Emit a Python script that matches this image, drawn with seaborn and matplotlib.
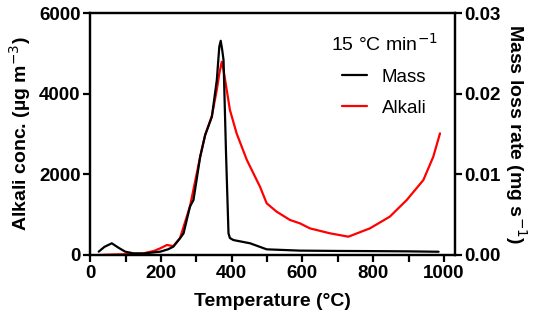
import numpy as np
import pandas as pd
import matplotlib
matplotlib.use('Agg')
import matplotlib.pyplot as plt
import seaborn as sns

# values
mass_temp = [24, 40, 61, 80, 99, 122, 150, 198, 220, 235, 254, 264, 282, 292, 311,
             325, 344, 358, 365, 369, 373, 377, 384, 391, 395, 405, 452, 499, 593,
             700, 800, 900, 985]
mass_rate = [0.00041, 0.00100, 0.00145, 0.00090, 0.00041, 0.00020, 0.00018, 0.00041,
             0.00070, 0.00103, 0.00207, 0.00269, 0.00600, 0.00682, 0.01220,
             0.01488, 0.01715, 0.02170, 0.02583, 0.02657, 0.02550, 0.02418, 0.01265,
             0.00269, 0.00210, 0.00185, 0.00145, 0.00070, 0.00054,
             0.00050, 0.00048, 0.00045, 0.00040]

alkali_temp = [28, 60, 100, 150, 180, 198, 217, 235, 254, 282, 311, 325, 344, 358,
               365, 372, 377, 395, 414, 443, 480, 499, 527, 565, 593, 621, 678,
               730, 791, 847, 895, 942, 970, 989]
alkali_conc = [0, 10, 20, 40, 100, 165, 248, 220, 420, 1200, 2440, 2975, 3450, 4100,
               4500, 4793, 4590, 3600, 3016, 2355, 1694, 1282, 1075, 868, 785, 661, 537,
               454, 661, 950, 1364, 1860, 2438, 3017]

sns.set_style('ticks', {'axes.edgecolor': 'black', 'text.color': 'black',
                        'axes.labelcolor': 'black', 'xtick.color': 'black',
                        'ytick.color': 'black'})
plt.rcParams['font.family'] = ['Liberation Sans', 'DejaVu Sans']

fig = plt.figure(figsize=(5.5, 3.29), dpi=100)
ax = fig.add_axes([0.164, 0.225, 0.663, 0.735])
ax2 = ax.twinx()

df_a = pd.DataFrame({'T': alkali_temp, 'v': alkali_conc})
df_m = pd.DataFrame({'T': mass_temp, 'v': mass_rate})

sns.lineplot(data=df_a, x='T', y='v', ax=ax, color='#ff0000', lw=1.6, label='Alkali')
sns.lineplot(data=df_m, x='T', y='v', ax=ax2, color='black', lw=1.6, label='Mass')

ax.set_xlim(0, 1031)
ax.set_ylim(0, 6000)
ax2.set_ylim(0, 0.03)
ax.set_xticks([0, 200, 400, 600, 800, 1000])
ax.set_xticks([100, 300, 500, 700, 900], minor=True)
ax.set_yticks([0, 2000, 4000, 6000])
ax2.set_yticks([0.0, 0.01, 0.02, 0.03])
ax2.set_yticklabels(['0.00', '0.01', '0.02', '0.03'])

for a in (ax, ax2):
    for s in a.spines.values():
        s.set_linewidth(1.6)
        s.set_color('black')
    a.tick_params(which='both', width=1.6, length=5, labelsize=13.5, pad=2,
                  colors='black')
    for lab in a.get_xticklabels() + a.get_yticklabels():
        lab.set_fontweight('bold')

ax.set_xlabel('Temperature (°C)', fontsize=14, fontweight='bold', labelpad=8)
ax.set_ylabel('Alkali conc. (µg m$^{-3}$)', fontsize=14, fontweight='bold', labelpad=4)
ax2.set_ylabel('Mass loss rate (mg s$^{-1}$)', fontsize=14, fontweight='bold',
               rotation=270, labelpad=20)

# legend with both series
ax.get_legend().remove()
h1, l1 = ax.get_legend_handles_labels()
h2, l2 = ax2.get_legend_handles_labels()
leg = ax2.legend(h2 + h1, l2 + l1, title='15 °C min$^{-1}$', frameon=False,
                 loc='upper right', bbox_to_anchor=(1.0, 0.99),
                 fontsize=13.5, title_fontsize=14,
                 handlelength=1.3, borderaxespad=0.5, labelspacing=0.75)

fig.savefig('out.png', dpi=100)
